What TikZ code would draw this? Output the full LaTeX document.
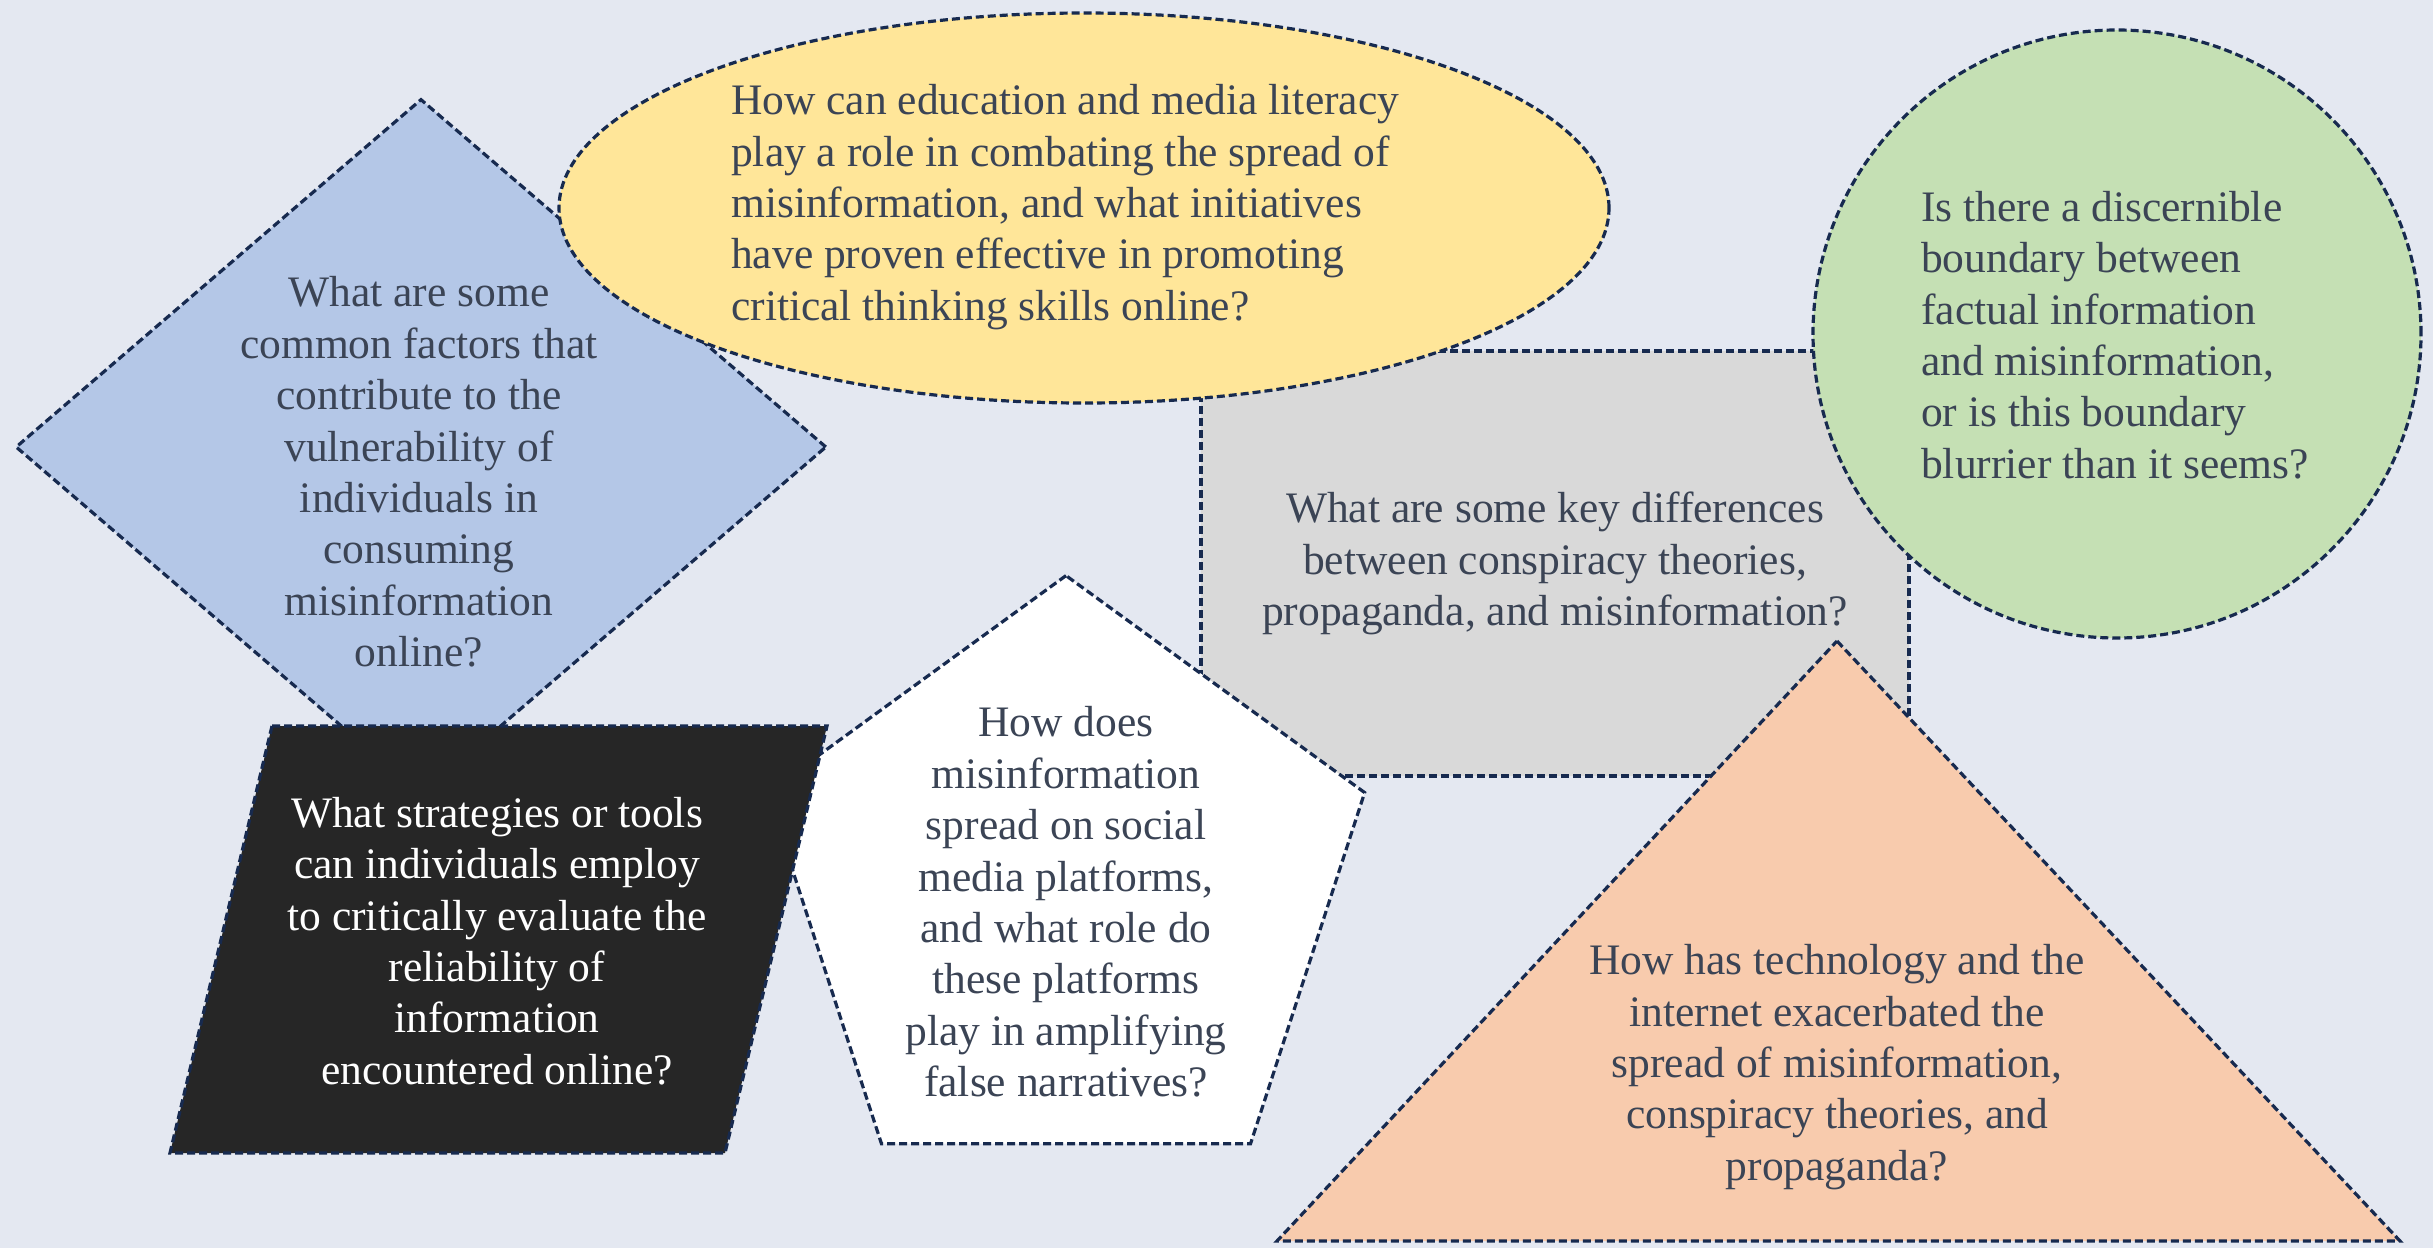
\documentclass[tikz,border=0pt]{standalone}
\usepackage{fontspec}
\setmainfont{Liberation Serif}
\usetikzlibrary{shapes.geometric}
\definecolor{bgcol}{HTML}{E4E8F1}
\definecolor{edgecol}{HTML}{172A4F}
\definecolor{inkcol}{HTML}{3B4455}
\definecolor{bluecol}{HTML}{B4C7E7}
\definecolor{yellowcol}{HTML}{FFE699}
\definecolor{greycol}{HTML}{D9D9D9}
\definecolor{greencol}{HTML}{C5E0B4}
\definecolor{darkcol}{HTML}{262626}
\definecolor{peachcol}{HTML}{F8CBAD}
\tikzstyle{question} = [draw=edgecol, line width=3.2pt, dash pattern=on 8pt off 4pt, inner sep=0pt]
\tikzstyle{qtext} = [text=inkcol, font=\fontsize{43.5}{51.4}\selectfont, align=center, inner sep=0pt]

\begin{document}
\begin{tikzpicture}[x=1pt, y=-1pt]
	\useasboundingbox (0,0) rectangle (2433,1248);
	\fill[bgcol] (0,0) rectangle (2433,1248);
	% grey box at the back
	\node (diffs) [question, rectangle, fill=greycol, minimum width=708pt, minimum height=425pt] at (1555,563.5) {};
	\node (diffstext) [qtext] at (diffs.center) {What are some key differences\\between conspiracy theories,\\propaganda, and misinformation?};
	\node (factors) [question, diamond, fill=bluecol, minimum width=811pt, minimum height=696pt] at (421,447) {};
	\node (factorstext) [qtext] at (419,472) {What are some\\common factors that\\contribute to the\\vulnerability of\\individuals in\\consuming\\misinformation\\online?};
	\node (social) [question, regular polygon, regular polygon sides=5, fill=white, minimum size=628pt] at (1066,889.6) {};
	\node (socialtext) [qtext] at (1066,902) {How does\\misinformation\\spread on social\\media platforms,\\and what role do\\these platforms\\play in amplifying\\false narratives?};
	\node (literacy) [question, ellipse, fill=yellowcol, minimum width=1050pt, minimum height=390pt] at (1084,208) {};
	\node (literacytext) [qtext, align=left, anchor=west] at (731,207) {How can education and media literacy\\play a role in combating the spread of\\misinformation, and what initiatives\\have proven effective in promoting\\critical thinking skills online?};
	\node (boundary) [question, circle, fill=greencol, minimum size=608pt] at (2117,334) {};
	\node (boundarytext) [qtext, align=left, anchor=west] at (1921,335) {Is there a discernible\\boundary between\\factual information\\and misinformation,\\or is this boundary\\blurrier than it seems?};
	% triangle and parallelogram drawn from corners
	\coordinate (apex) at (1837,641);
	\coordinate (baseleft) at (1277,1241);
	\coordinate (baseright) at (2400,1241);
	\filldraw [question, fill=peachcol] (apex) -- (baseright) -- (baseleft) -- cycle;
	\node (techtext) [qtext] at (1837,1067) {How has technology and the\\internet exacerbated the\\spread of misinformation,\\conspiracy theories, and\\propaganda?};
	\coordinate (pgtl) at (272,726);
	\coordinate (pgtr) at (827,726);
	\coordinate (pgbr) at (725,1153);
	\coordinate (pgbl) at (170,1153);
	\filldraw [question, fill=darkcol] (pgtl) -- (pgtr) -- (pgbr) -- (pgbl) -- cycle;
	\node (toolstext) [qtext, text=white] at (497,941) {What strategies or tools\\can individuals employ\\to critically evaluate the\\reliability of\\information\\encountered online?};
\end{tikzpicture}
\end{document}
